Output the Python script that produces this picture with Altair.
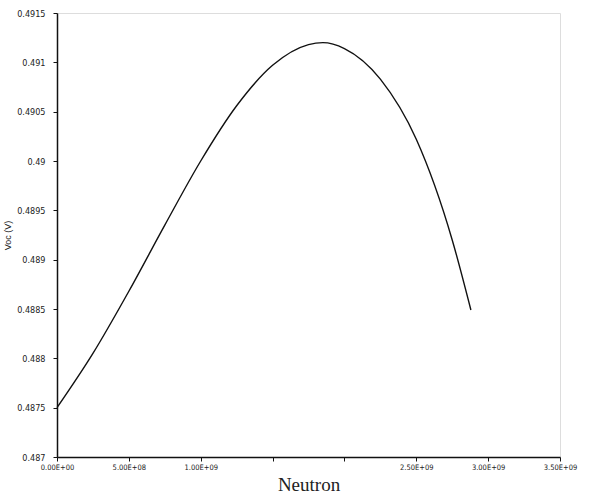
import altair as alt
import pandas as pd

# Traced curve (Neutron fluence vs Voc)
neutron = [0, 2.5e8, 5.0e8, 7.5e8, 1.0e9, 1.25e9, 1.5e9, 1.75e9, 1.85e9, 2.0e9,
           2.25e9, 2.5e9, 2.75e9, 2.88e9]
voc = [0.48750, 0.48805, 0.48868, 0.48935, 0.49000, 0.49056, 0.49097, 0.49118, 0.49120,
       0.49114, 0.49083, 0.49022, 0.48920, 0.48849]

x_ticks = [0, 5e8, 1e9, 1.5e9, 2e9, 2.5e9, 3e9, 3.5e9]
x_labels = ["0.00E+00", "5.00E+08", "1.00E+09", "", "", "2.50E+09", "3.00E+09", "3.50E+09"]
y_ticks = [0.487, 0.4875, 0.488, 0.4885, 0.489, 0.4895, 0.49, 0.4905, 0.491, 0.4915]

df = pd.DataFrame({"neutron": neutron, "voc": voc})

label_expr = " : ".join(
    f"datum.value == {v:.0f} ? '{l}'" for v, l in zip(x_ticks, x_labels)
) + " : ''"

label_font = "Liberation Sans Narrow, DejaVu Sans Condensed, Liberation Sans"

chart = alt.Chart(df).mark_line(
    color="#111111", strokeWidth=1.4, interpolate="monotone"
).encode(
    x=alt.X("neutron:Q",
            scale=alt.Scale(domain=[0, 3.5e9], nice=False, zero=False),
            axis=alt.Axis(values=x_ticks, labelExpr=label_expr, title="Neutron",
                          grid=False, tickSize=4, labelPadding=2,
                          labelFont=label_font, labelFontSize=7.5, labelColor="#222222",
                          labelFlush=False, labelOverlap=False,
                          titleFont="Liberation Serif", titleFontSize=19,
                          titleFontWeight="normal", titleColor="#222222",
                          titleBaseline="alphabetic", titleY=33,
                          domainColor="#111111", domainWidth=1.5,
                          tickColor="#111111")),
    y=alt.Y("voc:Q",
            scale=alt.Scale(domain=[0.487, 0.4915], nice=False, zero=False),
            axis=alt.Axis(values=y_ticks, format="~g", title="Voc (V)",
                          grid=False, tickSize=4, labelPadding=8,
                          labelFont=label_font, labelFontSize=9, labelColor="#222222",
                          labelOverlap=False,
                          titleFont="Liberation Sans", titleFontSize=9,
                          titleFontWeight="normal", titleColor="#222222",
                          titleX=-45, titleAnchor="middle",
                          domainColor="#111111", domainWidth=1.5,
                          tickColor="#111111")),
).properties(
    width=503, height=444,
    padding={"left": 57, "top": 13, "right": 35, "bottom": 39},
    autosize=alt.AutoSizeParams(type="none"),
).configure_view(stroke=None).configure(background="white")

chart.save("out.html", embed_options={"renderer": "svg", "actions": False})
